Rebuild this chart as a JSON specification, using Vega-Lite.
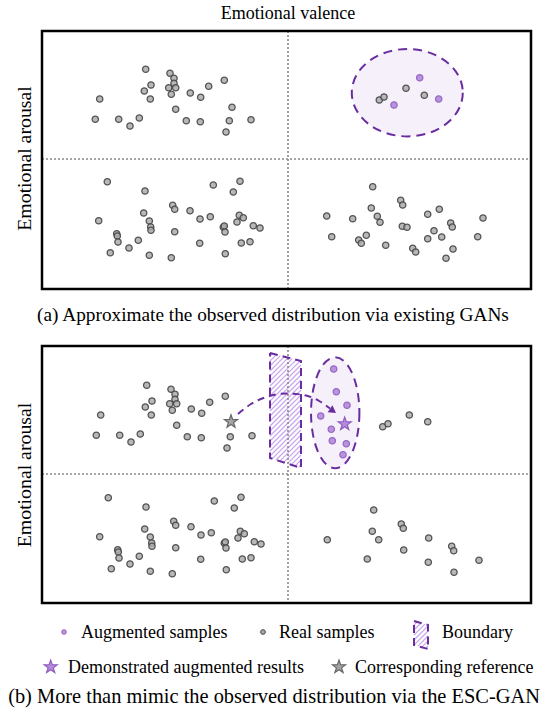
{
"$schema": "https://vega.github.io/schema/vega-lite/v6.json",
"width": 543, "height": 717,
"autosize": {"type": "fit", "contains": "padding"},
"padding": 0,
"background": "white",
"config": {"view": {"stroke": null}},
"datasets": {
"ellA": [{"x": 407.3, "y": 92.7}],
"ellB": [{"x": 335.2, "y": 412.8}],
"divs": [{"x": 288, "y": 31, "x2": 288, "y2": 289}, {"x": 42, "y": 159, "x2": 531, "y2": 159}, {"x": 288, "y": 346, "x2": 288, "y2": 603}, {"x": 42, "y": 474, "x2": 531, "y2": 474}],
"hatch": [
{"x":270,"y":356,"x2":272.4,"y2":353.6},{"x":270,"y":361,"x2":276.4,"y2":354.6},{"x":270,"y":366,"x2":280.3,"y2":355.7},{"x":270,"y":371,"x2":284.3,"y2":356.7},{"x":270,"y":376,"x2":288.3,"y2":357.7},{"x":270,"y":381,"x2":292.3,"y2":358.7},{"x":270,"y":386,"x2":296.2,"y2":359.8},{"x":270,"y":391,"x2":300.2,"y2":360.8},{"x":270,"y":396,"x2":301,"y2":365},{"x":270,"y":401,"x2":301,"y2":370},{"x":270,"y":406,"x2":301,"y2":375},{"x":270,"y":411,"x2":301,"y2":380},{"x":270,"y":416,"x2":301,"y2":385},{"x":270,"y":421,"x2":301,"y2":390},{"x":270,"y":426,"x2":301,"y2":395},{"x":270,"y":431,"x2":301,"y2":400},{"x":270,"y":436,"x2":301,"y2":405},{"x":270,"y":441,"x2":301,"y2":410},{"x":270,"y":446,"x2":301,"y2":415},{"x":270,"y":451,"x2":301,"y2":420},{"x":270,"y":456,"x2":301,"y2":425},{"x":272.3,"y":458.7,"x2":301,"y2":430},{"x":276,"y":460,"x2":301,"y2":435},{"x":279.8,"y":461.2,"x2":301,"y2":440},{"x":283.6,"y":462.4,"x2":301,"y2":445},{"x":287.4,"y":463.6,"x2":301,"y2":450},{"x":291.2,"y":464.8,"x2":301,"y2":455},{"x":294.9,"y":466.1,"x2":301,"y2":460},{"x":298.7,"y":467.3,"x2":301,"y2":465},
{"x":414,"y":625,"x2":417.1,"y2":621.9},{"x":414,"y":630,"x2":421,"y2":623},{"x":414,"y":635,"x2":424.9,"y2":624.1},{"x":414,"y":640,"x2":428,"y2":626},{"x":414,"y":645,"x2":428,"y2":631},{"x":417.9,"y":646.1,"x2":428,"y2":636},{"x":421.8,"y":647.2,"x2":428,"y2":641},{"x":425.7,"y":648.3,"x2":428,"y2":646}
],
"bound": [
{"g":"main","o":1,"x":270,"y":353},{"g":"main","o":2,"x":301,"y":361},{"g":"main","o":3,"x":301,"y":468},{"g":"main","o":4,"x":270,"y":458},{"g":"main","o":5,"x":270,"y":353},
{"g":"leg","o":1,"x":414,"y":621},{"g":"leg","o":2,"x":428,"y":625},{"g":"leg","o":3,"x":428,"y":649},{"g":"leg","o":4,"x":414,"y":645},{"g":"leg","o":5,"x":414,"y":621}
],
"arrow": [{"o":1,"x":238,"y":414},{"o":2,"x":251,"y":404},{"o":3,"x":268,"y":396.5},{"o":4,"x":287,"y":393.5},{"o":5,"x":306,"y":395.5},{"o":6,"x":320,"y":401.5},{"o":7,"x":330,"y":408.5}],
"head": [{"x":333,"y":410.8}],
"real": [
{"x":145.7,"y":69.3},{"x":170,"y":73.3},{"x":174,"y":78.3},{"x":174,"y":83.3},{"x":151,"y":85},{"x":168.7,"y":87.7},{"x":175.7,"y":87.7},{"x":144.3,"y":91},{"x":171.3,"y":94.3},{"x":190.3,"y":93},{"x":200.7,"y":97.3},{"x":208.7,"y":86.3},{"x":224.3,"y":80.3},{"x":99.7,"y":99},{"x":150.3,"y":99},{"x":175.7,"y":109.3},{"x":232,"y":107.3},{"x":95.3,"y":119.3},{"x":118.7,"y":119.3},{"x":139.3,"y":118},{"x":130,"y":126},{"x":186.3,"y":120.7},{"x":200.3,"y":121.7},{"x":229.3,"y":120.7},{"x":251,"y":119.7},{"x":226,"y":132},
{"x":379.3,"y":100},{"x":384,"y":97},{"x":406,"y":88.3},{"x":424.3,"y":95.3},
{"x":107.3,"y":181.7},{"x":145,"y":191},{"x":213.3,"y":185},{"x":240,"y":181.3},{"x":233.3,"y":192},{"x":172.7,"y":205.3},{"x":174.7,"y":209.3},{"x":190,"y":210.7},{"x":143.7,"y":213},{"x":98.7,"y":220.7},{"x":149.3,"y":221},{"x":200,"y":219},{"x":210.3,"y":216.7},{"x":239.3,"y":215.3},{"x":243.3,"y":217.7},{"x":237,"y":222},{"x":253.3,"y":225.7},{"x":260,"y":228},{"x":150.7,"y":227},{"x":151,"y":230.3},{"x":223.3,"y":227.3},{"x":224.3,"y":226},{"x":225,"y":232},{"x":174.7,"y":231.7},{"x":116.7,"y":233.7},{"x":117.3,"y":236},{"x":118,"y":242},{"x":138.3,"y":240.3},{"x":129,"y":248},{"x":110.3,"y":252.7},{"x":149.3,"y":255.3},{"x":171.3,"y":257.7},{"x":199.7,"y":243.3},{"x":241.3,"y":243},{"x":250,"y":241.7},{"x":225.3,"y":253.7},
{"x":372.7,"y":186.7},{"x":400.7,"y":200.3},{"x":402.7,"y":205},{"x":371.3,"y":208},{"x":439.3,"y":209.3},{"x":427.7,"y":214.3},{"x":326.7,"y":216},{"x":352.7,"y":218.7},{"x":377.3,"y":216.3},{"x":380,"y":222.3},{"x":483,"y":218},{"x":450.7,"y":223},{"x":452.3,"y":227},{"x":402.3,"y":226.3},{"x":407,"y":227.3},{"x":434,"y":230.7},{"x":331.7,"y":236.7},{"x":366.3,"y":235.3},{"x":358.7,"y":240},{"x":361.3,"y":243.3},{"x":427.7,"y":238.7},{"x":441.7,"y":237},{"x":477.7,"y":236.7},{"x":385.7,"y":245.3},{"x":412.7,"y":248.3},{"x":415.7,"y":252},{"x":453,"y":249},{"x":446,"y":258.3},
{"x":146.7,"y":385.3},{"x":171,"y":389.3},{"x":175,"y":394.3},{"x":175,"y":399.3},{"x":152,"y":401},{"x":169.7,"y":403.7},{"x":176.7,"y":403.7},{"x":145.3,"y":407},{"x":172.3,"y":410.3},{"x":191.3,"y":409},{"x":201.7,"y":413.3},{"x":209.7,"y":402.3},{"x":225.3,"y":396.3},{"x":100.7,"y":415},{"x":151.3,"y":415},{"x":176.7,"y":425.3},{"x":96.3,"y":435.3},{"x":119.7,"y":435.3},{"x":140.3,"y":434},{"x":131,"y":442},{"x":187.3,"y":436.7},{"x":201.3,"y":437.7},{"x":230.3,"y":436.7},{"x":252,"y":435.7},{"x":227,"y":448},
{"x":382.7,"y":426.7},{"x":388,"y":423.7},{"x":409.3,"y":415},{"x":427.7,"y":421.7},
{"x":108.3,"y":497.7},{"x":146,"y":507},{"x":214.3,"y":501},{"x":241,"y":497.3},{"x":234.3,"y":508},{"x":173.7,"y":521.3},{"x":175.7,"y":525.3},{"x":191,"y":526.7},{"x":144.7,"y":529},{"x":99.7,"y":536.7},{"x":150.3,"y":537},{"x":201,"y":535},{"x":211.3,"y":532.7},{"x":240.3,"y":531.3},{"x":244.3,"y":533.7},{"x":238,"y":538},{"x":254.3,"y":541.7},{"x":261,"y":544},{"x":151.7,"y":543},{"x":152,"y":546.3},{"x":224.3,"y":543.3},{"x":225.3,"y":542},{"x":226,"y":548},{"x":175.7,"y":547.7},{"x":117.7,"y":549.7},{"x":118.3,"y":552},{"x":119,"y":558},{"x":139.3,"y":556.3},{"x":130,"y":564},{"x":111.3,"y":568.7},{"x":150.3,"y":571.3},{"x":172.3,"y":573.7},{"x":200.7,"y":559.3},{"x":242.3,"y":559},{"x":251,"y":557.7},{"x":226.3,"y":569.7},
{"x":373.7,"y":510},{"x":401.3,"y":524},{"x":403.3,"y":528.3},{"x":372.3,"y":531.3},{"x":327.3,"y":539.7},{"x":378.7,"y":539.7},{"x":428.7,"y":538},{"x":451.7,"y":546.3},{"x":453.7,"y":550.7},{"x":403.7,"y":550},{"x":367.3,"y":559},{"x":428.3,"y":562.3},{"x":479,"y":560.3},{"x":454,"y":572.3}
],
"aug": [
{"x":419.7,"y":77.7},{"x":394,"y":105},{"x":438.7,"y":99},
{"x":333.7,"y":369},{"x":336.3,"y":391.7},{"x":347,"y":405.3},{"x":320.7,"y":416},{"x":331.3,"y":429.3},{"x":332.3,"y":440.7},{"x":346.3,"y":443.7},{"x":343,"y":454.7}
],
"legAug": [{"x":64,"y":632}],
"legReal": [{"x":263,"y":632}],
"starsAug": [{"x":344.7,"y":424},{"x":50.7,"y":667}],
"starsRef": [{"x":231,"y":421.7},{"x":339,"y":667}],
"boxes": [{"x":42,"y":31,"x2":531,"y2":289},{"x":42,"y":346,"x2":531,"y2":603}],
"title": [{"t":"Emotional valence","x":288,"y":19}],
"capA": [{"t":"(a) Approximate the observed distribution via existing GANs","x":273,"y":321}],
"capB": [{"t":"(b) More than mimic the observed distribution via the ESC-GAN","x":274,"y":703}],
"legText": [{"t":"Augmented samples","x":81,"y":638},{"t":"Real samples","x":279,"y":638},{"t":"Boundary","x":442,"y":638},{"t":"Demonstrated augmented results","x":68,"y":673},{"t":"Corresponding reference","x":355,"y":673}],
"ylab": [{"t":"Emotional arousal","x":31,"y":158.5},{"t":"Emotional arousal","x":31,"y":475}]
},
"encoding": {
"x": {"field": "x", "type": "quantitative", "scale": {"domain": [0, 543], "nice": false, "zero": false}, "axis": null},
"y": {"field": "y", "type": "quantitative", "scale": {"domain": [0, 717], "nice": false, "zero": false, "reverse": true}, "axis": null}
},
"layer": [
{"data": {"name": "ellA"}, "mark": {"type": "point", "shape": "M1,0C1,0.435 0.5523,0.787 0,0.787C-0.5523,0.787 -1,0.435 -1,0C-1,-0.435 -0.5523,-0.787 0,-0.787C0.5523,-0.787 1,-0.435 1,0Z", "size": 12321, "filled": true, "fill": "#f5f0fa", "fillOpacity": 1, "stroke": "#6a2d9f", "strokeOpacity": 1, "strokeWidth": 2, "strokeDash": [9, 6]}},
{"data": {"name": "ellB"}, "mark": {"type": "point", "shape": "M0.436,0C0.436,0.5523 0.2408,1 0,1C-0.2408,1 -0.436,0.5523 -0.436,0C-0.436,-0.5523 -0.2408,-1 0,-1C0.2408,-1 0.436,-0.5523 0.436,0Z", "size": 12321, "filled": true, "fill": "#f5f0fa", "fillOpacity": 1, "stroke": "#6a2d9f", "strokeOpacity": 1, "strokeWidth": 2, "strokeDash": [9, 6]}},
{"data": {"name": "hatch"}, "mark": {"type": "rule", "color": "#c9a8ec", "strokeWidth": 1.2}, "encoding": {"x2": {"field": "x2"}, "y2": {"field": "y2"}}},
{"data": {"name": "divs"}, "mark": {"type": "rule", "color": "#8a8a8a", "strokeWidth": 1.6, "strokeDash": [2, 2]}, "encoding": {"x2": {"field": "x2"}, "y2": {"field": "y2"}}},
{"data": {"name": "bound"}, "mark": {"type": "line", "color": "#6a2d9f", "strokeWidth": 2, "strokeDash": [8, 5]}, "encoding": {"order": {"field": "o"}, "detail": {"field": "g"}}},
{"data": {"name": "arrow"}, "mark": {"type": "line", "color": "#6a2d9f", "strokeWidth": 2, "strokeDash": [7, 5], "interpolate": "monotone"}, "encoding": {"order": {"field": "o"}}},
{"data": {"name": "head"}, "mark": {"type": "point", "shape": "triangle-right", "angle": 35, "size": 70, "filled": true, "color": "#6a2d9f", "opacity": 1}},
{"data": {"name": "real"}, "mark": {"type": "point", "filled": true, "size": 40, "fill": "#ababab", "fillOpacity": 0.85, "stroke": "#454545", "strokeOpacity": 0.9, "strokeWidth": 1.3}},
{"data": {"name": "aug"}, "mark": {"type": "point", "filled": true, "size": 40, "fill": "#b895db", "fillOpacity": 1, "stroke": "#9868c9", "strokeOpacity": 1, "strokeWidth": 1.3}},
{"data": {"name": "legAug"}, "mark": {"type": "point", "filled": true, "size": 22, "fill": "#b895db", "stroke": "#9868c9", "strokeWidth": 1, "opacity": 1}},
{"data": {"name": "legReal"}, "mark": {"type": "point", "filled": true, "size": 22, "fill": "#ababab", "stroke": "#454545", "strokeWidth": 1, "opacity": 1}},
{"data": {"name": "starsAug"}, "mark": {"type": "point", "filled": true, "size": 190, "fill": "#b48bd9", "stroke": "#8f5cc4", "strokeWidth": 1.2, "opacity": 1, "shape": "M0,-1L0.235,-0.324L0.951,-0.309L0.380,0.124L0.588,0.809L0,0.4L-0.588,0.809L-0.380,0.124L-0.951,-0.309L-0.235,-0.324Z"}},
{"data": {"name": "starsRef"}, "mark": {"type": "point", "filled": true, "size": 190, "fill": "#a3a3a3", "stroke": "#666666", "strokeWidth": 1.2, "opacity": 1, "shape": "M0,-1L0.235,-0.324L0.951,-0.309L0.380,0.124L0.588,0.809L0,0.4L-0.588,0.809L-0.380,0.124L-0.951,-0.309L-0.235,-0.324Z"}},
{"data": {"name": "boxes"}, "mark": {"type": "rect", "fill": "white", "fillOpacity": 0, "stroke": "black", "strokeWidth": 2.5}, "encoding": {"x2": {"field": "x2"}, "y2": {"field": "y2"}}},
{"data": {"name": "title"}, "mark": {"type": "text", "font": "Liberation Serif", "fontSize": 18, "align": "center", "baseline": "alphabetic", "color": "black"}, "encoding": {"text": {"field": "t"}}},
{"data": {"name": "capA"}, "mark": {"type": "text", "font": "Liberation Serif", "fontSize": 19.3, "align": "center", "baseline": "alphabetic", "color": "black"}, "encoding": {"text": {"field": "t"}}},
{"data": {"name": "capB"}, "mark": {"type": "text", "font": "Liberation Serif", "fontSize": 20.4, "align": "center", "baseline": "alphabetic", "color": "black"}, "encoding": {"text": {"field": "t"}}},
{"data": {"name": "legText"}, "mark": {"type": "text", "font": "Liberation Serif", "fontSize": 18, "align": "left", "baseline": "alphabetic", "color": "black"}, "encoding": {"text": {"field": "t"}}},
{"data": {"name": "ylab"}, "mark": {"type": "text", "font": "Liberation Serif", "fontSize": 19.8, "align": "center", "baseline": "alphabetic", "angle": 270, "color": "black"}, "encoding": {"text": {"field": "t"}}}
]
}
